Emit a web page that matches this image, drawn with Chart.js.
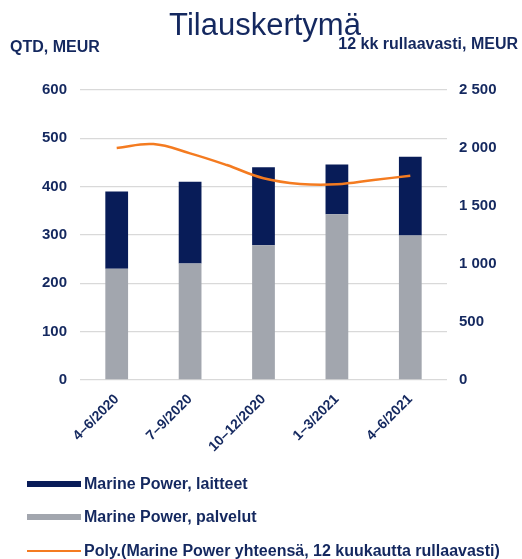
<!DOCTYPE html>
<html lang="fi">
<head>
  <meta charset="UTF-8">
  <title>Tilauskertymä</title>
  <script src="https://cdn.jsdelivr.net/npm/chart.js"></script>
  <style>
    body {
      margin: 0;
      background: #fff;
      font-family: "Liberation Sans", Arial, sans-serif;
      color: #14285f;
    }
    #wrap {
      position: relative;
      width: 522px;
      height: 559px;
    }
    #chart-box {
      position: absolute;
      left: 0;
      top: 0;
      width: 522px;
      height: 470px;
    }
    .title {
      position: absolute;
      top: 7px;
      left: 0;
      width: 530px;
      text-align: center;
      font-size: 31px;
      color: #14285f;
    }
    .axis-title {
      position: absolute;
      font-size: 16px;
      font-weight: bold;
      white-space: nowrap;
    }
    #legend {
      position: absolute;
      left: 27px;
      top: 467px;
    }
    .leg-item {
      display: flex;
      align-items: center;
      height: 33.5px;
      font-size: 16px;
      font-weight: bold;
      white-space: nowrap;
    }
    .leg-item span.sw {
      display: inline-block;
      width: 54px;
      margin-right: 3px;
    }
  </style>
</head>
<body>
  <div id="wrap">
    <div id="chart-box"><canvas id="orderChart"></canvas></div>
    <div class="title">Tilauskertymä</div>
    <div class="axis-title" style="left:10px; top:38px;">QTD, MEUR</div>
    <div class="axis-title" style="right:4px; top:35px;">12 kk rullaavasti, MEUR</div>
    <div id="legend"></div>
  </div>

  <script>
    // neljännekset
    const quarters = ['4\u20136/2020', '7\u20139/2020', '10\u201312/2020', '1\u20133/2021', '4\u20136/2021'];
    // MEUR, QTD
    const services = [230, 241, 279, 343, 299];
    const equipment = [160, 169, 161, 103, 163];
    // polynomitrendi (12 kk rullaavasti), luettu kuvasta puolen neljänneksen välein
    const trendPos = [0, 0.5, 1, 1.5, 2, 2.5, 3, 3.5, 4];
    const trendValues = [2000, 2034, 1954, 1853, 1739, 1690, 1687, 1724, 1761];

    const navy = '#081c58';
    const grey = '#a2a6ae';
    const orange = '#f47b20';
    const textCol = '#14285f';

    const datasets = [
      {
        type: 'bar',
        label: 'Marine Power, palvelut',
        data: services,
        backgroundColor: grey,
        xAxisID: 'x',
        yAxisID: 'y',
        grouped: false,
        barPercentage: 0.31,
        categoryPercentage: 1.0,
        order: 2
      },
      {
        type: 'bar',
        label: 'Marine Power, laitteet',
        data: equipment,
        backgroundColor: navy,
        xAxisID: 'x',
        yAxisID: 'y',
        grouped: false,
        barPercentage: 0.31,
        categoryPercentage: 1.0,
        order: 2
      },
      {
        type: 'line',
        label: 'Poly.(Marine Power yhteensä, 12 kuukautta rullaavasti)',
        data: trendPos.map((p, i) => ({ x: p, y: trendValues[i] })),
        xAxisID: 'x2',
        yAxisID: 'y1',
        borderColor: orange,
        borderWidth: 2.5,
        pointRadius: 0,
        tension: 0.4,
        fill: false,
        order: 1
      }
    ];

    const tickFont = { family: '"Liberation Sans", Arial, sans-serif', size: 15, weight: 'bold' };

    new Chart(document.getElementById('orderChart'), {
      data: { labels: quarters, datasets: datasets },
      options: {
        responsive: true,
        maintainAspectRatio: false,
        animation: false,
        layout: { padding: { top: 90, left: 0, right: 0, bottom: 0 } },
        plugins: {
          legend: { display: false },
          tooltip: { enabled: false }
        },
        scales: {
          x: {
            type: 'category',
            stacked: true,
            grid: { display: false },
            border: { display: false },
            ticks: {
              color: textCol,
              font: { family: '"Liberation Sans", Arial, sans-serif', size: 14, weight: 'bold' },
              minRotation: 45,
              maxRotation: 45,
              padding: 3
            },
            afterFit: s => { s.height = 90; }
          },
          x2: {
            type: 'linear',
            display: false,
            min: -0.5,
            max: 4.5
          },
          y: {
            stacked: true,
            min: 0,
            max: 600,
            position: 'left',
            ticks: { stepSize: 100, color: textCol, font: tickFont, padding: 13 },
            grid: { color: '#d9d9d9', lineWidth: 1.3, drawTicks: false },
            border: { display: false },
            afterFit: s => { s.width = 80; }
          },
          y1: {
            min: 0,
            max: 2500,
            position: 'right',
            ticks: {
              stepSize: 500,
              color: textCol,
              font: tickFont,
              padding: 12,
              callback: v => String(v).replace(/\B(?=(\d{3})+(?!\d))/g, ' ')
            },
            grid: { display: false, drawTicks: false },
            border: { display: false },
            afterFit: s => { s.width = 75; }
          }
        }
      }
    });

    // selite
    const legendItems = [
      { label: datasets[1].label, color: navy, h: 6 },
      { label: datasets[0].label, color: grey, h: 6 },
      { label: datasets[2].label, color: orange, h: 2.5 }
    ];
    const leg = document.getElementById('legend');
    legendItems.forEach(it => {
      const row = document.createElement('div');
      row.className = 'leg-item';
      row.innerHTML = '<span class="sw" style="height:' + it.h + 'px;background:' + it.color + '"></span>' + it.label;
      leg.appendChild(row);
    });
  </script>
</body>
</html>
